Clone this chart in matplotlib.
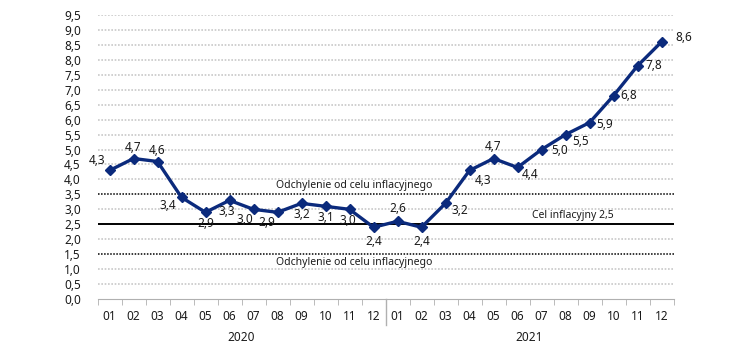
import numpy as np
import matplotlib.pyplot as plt

months = ['01', '02', '03', '04', '05', '06', '07', '08', '09', '10', '11', '12'] * 2
years = ['2020', '2021']
inflation = [4.3, 4.7, 4.6, 3.4, 2.9, 3.3, 3.0, 2.9, 3.2, 3.1, 3.0, 2.4,
             2.6, 2.4, 3.2, 4.3, 4.7, 4.4, 5.0, 5.5, 5.9, 6.8, 7.8, 8.6]
target = 2.5
band = [1.5, 3.5]

# label offsets in points (dx, dy)
offsets = [(-9, 7), (0, 8), (0, 8), (-10, -6), (0, -8), (-2, -8), (-6, -7), (-8, -7),
           (0, -8), (0, -8), (-1, -8), (0, -10),
           (0, 9), (0, -10), (10, -5), (10, -7), (0, 9), (9, -5),
           (13, -1), (11, -5), (11, -1), (11, 0), (12, 0), (16, 3)]

plt.rcParams['font.family'] = ['Noto Sans', 'DejaVu Sans']
fig = plt.figure(figsize=(7.5, 3.55), dpi=100)
ax = fig.add_axes([0.13, 0.1577, 0.768, 0.80])

x = np.arange(len(inflation))
navy = '#0b2a7c'
txt = '#1a1a1a'

for v in np.arange(0.5, 10, 0.5):
    if v in band or v == target:
        continue
    ax.axhline(v, color='#c8c8c8', lw=1.2, ls=(0, (1, 1)), zorder=1)
for b in band:
    ax.axhline(b, color='black', lw=1.1, ls=(0, (1, 1)), zorder=2)
ax.axhline(target, color='black', lw=1.4, zorder=2)

ax.plot(x, inflation, color=navy, lw=2.4, marker='D', ms=5.5, zorder=3)

for xi, v, (dx, dy) in zip(x, inflation, offsets):
    ax.annotate(f'{v:.1f}'.replace('.', ','), (xi, v), xytext=(dx, dy),
                textcoords='offset points', ha='center', va='center', fontsize=8.5,
                color=txt, zorder=4)

ax.text(10.2, 3.6, 'Odchylenie od celu inflacyjnego', ha='center', va='bottom',
        fontsize=7.5, color=txt)
ax.text(10.2, 1.4, 'Odchylenie od celu inflacyjnego', ha='center', va='top',
        fontsize=7.5, color=txt)
ax.text(19.3, 2.6, 'Cel inflacyjny 2,5', ha='center', va='bottom', fontsize=7.5, color=txt)

ax.set_xlim(-0.5, len(inflation) - 0.5)
ax.set_ylim(0, 9.5)
yt = np.arange(0, 9.6, 0.5)
ax.set_yticks(yt)
ax.set_yticklabels([f'{v:.1f}'.replace('.', ',') for v in yt], fontsize=8.5, color=txt)
ax.set_xticks(x)
ax.set_xticklabels(months, fontsize=8.5, color=txt)
ax.set_xticks(np.arange(-0.5, len(inflation), 1), minor=True)
ax.tick_params(axis='x', which='major', length=0, pad=8)
ax.tick_params(axis='x', which='minor', length=4, color='#b0b0b0', direction='out')
ax.tick_params(axis='y', length=0, pad=12)
for s in ['top', 'right', 'left']:
    ax.spines[s].set_visible(False)
ax.spines['bottom'].set_color('#b0b0b0')

for i, yr in enumerate(years):
    ax.text(5.5 + 12 * i, -0.135, yr, transform=ax.get_xaxis_transform(),
            ha='center', va='center', fontsize=8.5, color=txt)
ax.plot([11.5, 11.5], [0, -0.09], transform=ax.get_xaxis_transform(),
        color='#b0b0b0', lw=1, clip_on=False)

fig.savefig('out.png', dpi=100)
